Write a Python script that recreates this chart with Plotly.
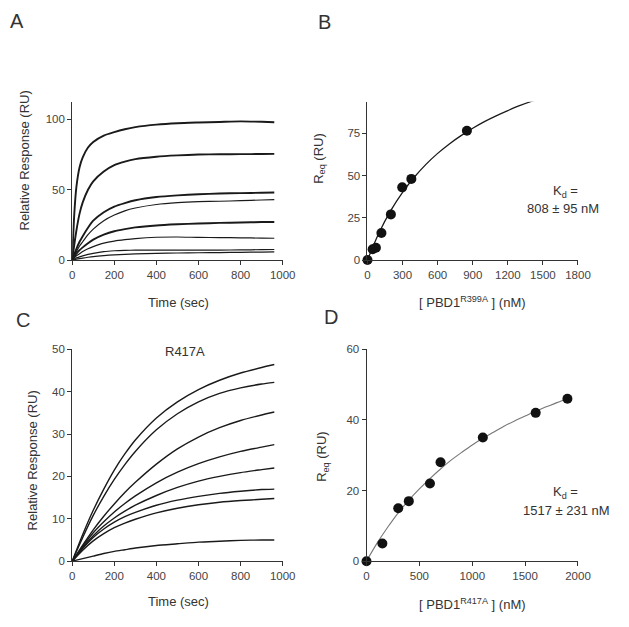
import plotly.graph_objects as go

W, H = 629, 627

# ---------------- Panel A: sensorgrams (wild type) ----------------
tA = [0, 10, 20, 35, 50, 75, 100, 150, 200, 250, 300, 400, 500, 600, 700, 800, 900, 960]
A1 = [0, 33, 52, 66, 73, 80, 84, 88.5, 91, 93, 94.5, 96.3, 97.3, 97.8, 98.2, 98.6, 98.3, 98]
A2 = [0, 11, 21, 33, 41, 50, 56, 63, 67.5, 70, 71.8, 73.5, 74.4, 75, 75.2, 75.3, 75.4, 75.5]
A3 = [0, 4, 8, 13, 17, 23, 28, 34, 38, 40.5, 42.5, 44.8, 46, 46.8, 47.3, 47.6, 47.8, 48]
A4 = [0, 3, 6, 10, 13, 18, 22, 28, 32, 35, 37, 39.5, 40.8, 41.5, 41.8, 42.2, 42.7, 43]
A5 = [0, 2.5, 4.5, 7, 9, 12, 14.5, 18, 20.5, 22, 23.2, 24.6, 25.4, 26, 26.4, 26.7, 27, 27]
A6 = [0, 1.5, 3, 4.5, 6, 8, 9.5, 12, 13.5, 14.5, 15.3, 16.2, 16.4, 16.1, 16, 15.8, 15.6, 15.5]
A7 = [0, 0.8, 1.5, 2.3, 3, 4, 4.8, 6, 6.6, 6.9, 7, 7.1, 7.1, 7.1, 7.1, 7.2, 7.4, 7.5]
A8 = [0, 0.3, 0.6, 1, 1.4, 2, 2.5, 3.2, 3.7, 4.1, 4.4, 4.8, 5, 5.2, 5.3, 5.5, 5.7, 5.8]
A_curves = [A1, A2, A3, A4, A5, A6, A7, A8]
A_noisy = [True, True, True, False, True, False, False, False]

# ---------------- Panel B: equilibrium binding R399A ----------------
B_conc = [0, 44, 72, 119, 200, 297, 375, 850]
B_req = [0, 6.4, 7.3, 16, 27, 43, 48, 76.5]
B_fit_x = [0, 100, 200, 300, 400, 500, 600, 700, 800, 900, 1000, 1100, 1200, 1300, 1400, 1455]
B_fit_y = [0, 16.3, 29.4, 40.1, 49.0, 56.6, 63.1, 68.7, 73.6, 78.0, 81.9, 85.3, 88.4, 91.3, 93.8, 95.0]

# ---------------- Panel C: sensorgrams R417A ----------------
tC = [0, 50, 100, 150, 200, 250, 300, 400, 500, 600, 700, 800, 900, 960]
C1 = [0, 6.3, 12, 17, 21.5, 25.3, 28.6, 33.8, 37.6, 40.5, 42.7, 44.4, 45.7, 46.4]
C2 = [0, 5.6, 10.8, 15.3, 19.3, 22.8, 25.9, 31, 34.8, 37.6, 39.6, 40.9, 41.8, 42.2]
C3 = [0, 3.8, 7.4, 10.6, 13.5, 16.2, 18.6, 22.9, 26.5, 29.3, 31.5, 33.2, 34.5, 35.2]
C4 = [0, 3.5, 6.7, 9.3, 11.6, 13.6, 15.4, 18.5, 21, 23, 24.6, 25.9, 26.9, 27.5]
C5 = [0, 3.2, 6, 8.3, 10.2, 11.8, 13.2, 15.5, 17.4, 18.9, 20, 20.9, 21.6, 22]
C6 = [0, 3, 5.6, 7.6, 9.2, 10.5, 11.5, 13.2, 14.4, 15.3, 16, 16.5, 16.9, 17]
C7 = [0, 2.6, 4.8, 6.5, 7.9, 9, 9.9, 11.4, 12.5, 13.3, 13.9, 14.3, 14.6, 14.8]
C8 = [0, 0.6, 1.2, 1.8, 2.3, 2.7, 3.1, 3.7, 4.1, 4.5, 4.7, 4.9, 5, 5]
C_curves = [C1, C2, C3, C4, C5, C6, C7, C8]

# ---------------- Panel D: equilibrium binding R417A ----------------
D_conc = [0, 150, 300, 400, 600, 700, 1100, 1600, 1900]
D_req = [0, 5, 15, 17, 22, 28, 35, 42, 46]
D_fit_x = [0, 100, 200, 300, 400, 500, 600, 700, 800, 900, 1000, 1100, 1200, 1300, 1400, 1500, 1600, 1700, 1800, 1900]
D_fit_y = [0, 5.1, 9.6, 13.7, 17.3, 20.5, 23.4, 26.1, 28.6, 30.8, 32.9, 34.8, 36.5, 38.2, 39.7, 41.1, 42.5, 43.7, 44.9, 46.0]

FONT = "Liberation Sans, Arial, sans-serif"
TXT = "#333333"


def px(x):
    return x / W


def py(y):
    return 1 - y / H


fig = go.Figure()

for c, noisy in zip(A_curves, A_noisy):
    fig.add_trace(go.Scatter(x=tA, y=c, mode="lines",
                             line=dict(color="#1a1a1a", width=1.9 if noisy else 1.2, shape="spline", smoothing=0.6),
                             xaxis="x", yaxis="y", showlegend=False, hoverinfo="skip"))

fig.add_trace(go.Scatter(x=B_fit_x, y=B_fit_y, mode="lines", line=dict(color="#1a1a1a", width=1.3, shape="spline"),
                         xaxis="x2", yaxis="y2", showlegend=False, hoverinfo="skip"))
fig.add_trace(go.Scatter(x=B_conc, y=B_req, mode="markers", marker=dict(color="#111111", size=10),
                         xaxis="x2", yaxis="y2", showlegend=False, cliponaxis=False))

for c in C_curves:
    fig.add_trace(go.Scatter(x=tC, y=c, mode="lines",
                             line=dict(color="#1a1a1a", width=1.4, shape="spline", smoothing=0.6),
                             xaxis="x3", yaxis="y3", showlegend=False, hoverinfo="skip"))

fig.add_trace(go.Scatter(x=D_fit_x, y=D_fit_y, mode="lines", line=dict(color="#777777", width=1.1, shape="spline"),
                         xaxis="x4", yaxis="y4", showlegend=False, hoverinfo="skip"))
fig.add_trace(go.Scatter(x=D_conc, y=D_req, mode="markers", marker=dict(color="#111111", size=10),
                         xaxis="x4", yaxis="y4", showlegend=False, cliponaxis=False))

ax_common = dict(showline=True, linecolor="#333333", linewidth=1, ticks="outside", ticklen=4, tickwidth=1,
                 tickcolor="#333333", showgrid=False, zeroline=False,
                 tickfont=dict(family=FONT, size=11.5, color="#444444"))

xdomL = [px(71), px(287)]
xdomR = [px(374), px(590)]
ydomT = [py(259), py(97.7)]
ydomB = [py(566), py(350)]

fig.update_layout(
    width=W, height=H, margin=dict(l=0, r=0, t=0, b=0),
    paper_bgcolor="white", plot_bgcolor="white",
    font=dict(family=FONT, size=13, color=TXT),
    xaxis=dict(domain=xdomL, range=[0, 1000], tickvals=[0, 200, 400, 600, 800, 1000], anchor="y", **ax_common),
    yaxis=dict(domain=ydomT, range=[0, 112.5], tickvals=[0, 50, 100], anchor="x", **ax_common),
    xaxis2=dict(domain=xdomR, range=[0, 1800], tickvals=[0, 300, 600, 900, 1200, 1500, 1800], anchor="y2", **ax_common),
    yaxis2=dict(domain=ydomT, range=[0, 93.6], tickvals=[0, 25, 50, 75], anchor="x2", **ax_common),
    xaxis3=dict(domain=xdomL, range=[0, 1000], tickvals=[0, 200, 400, 600, 800, 1000], anchor="y3", **ax_common),
    yaxis3=dict(domain=ydomB, range=[0, 50], tickvals=[0, 10, 20, 30, 40, 50], anchor="x3", **ax_common),
    xaxis4=dict(domain=[px(373), px(590)], range=[0, 2000], tickvals=[0, 500, 1000, 1500, 2000], anchor="y4", **ax_common),
    yaxis4=dict(domain=ydomB, range=[0, 60], tickvals=[0, 20, 40, 60], anchor="x4", **ax_common),
)


def ann(text, x, y, size=13, angle=0, color=TXT):
    fig.add_annotation(text=text, x=px(x), y=py(y), xref="paper", yref="paper", showarrow=False,
                       xanchor="center", yanchor="middle", textangle=angle,
                       font=dict(family=FONT, size=size, color=color))


# panel letters
ann("A", 14.5, 15.5, size=20)
ann("B", 330, 16, size=20)
ann("C", 20.5, 320, size=20)
ann("D", 337, 317, size=20)

# axis titles
ann("Relative Response (RU)", 23, 157, angle=-90)
ann("Time (sec)", 180, 302)
ann("R<sub>eq</sub> (RU)", 324, 155, angle=-90)
ann("[ PBD1<sup>R399A</sup> ] (nM)", 482, 302)
ann("Relative Response (RU)", 30, 463, angle=-90)
ann("Time (sec)", 180, 607)
ann("R<sub>eq</sub> (RU)", 328, 459, angle=-90)
ann("[ PBD1<sup>R417A</sup> ] (nM)", 482, 610)

# in-plot texts
ann("R417A", 187, 352)
ann("K<sub>d</sub> =", 577, 189)
ann("808 ± 95 nM", 575, 206)
ann("K<sub>d</sub> =", 577, 496)
ann("1517 ± 231 nM", 578, 514)

fig.write_html("out.html", config={"displayModeBar": False},
               post_script="document.body.style.margin='0px';document.body.style.padding='0px';document.documentElement.style.overflow='hidden';")
